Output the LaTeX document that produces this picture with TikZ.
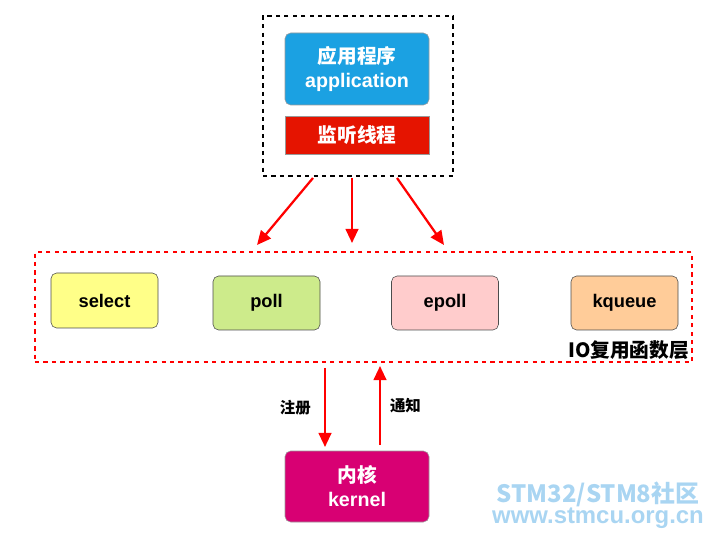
\documentclass[tikz,border=0pt]{standalone}
\usepackage{fontspec}
\setmainfont{Liberation Sans}
\newfontfamily\cjk{Noto Sans CJK SC}
\usetikzlibrary{arrows.meta}
\definecolor{appblue}{HTML}{1BA1E2}
\definecolor{thrred}{HTML}{E51400}
\definecolor{kernred}{HTML}{D80073}
\definecolor{wmblue}{HTML}{A9D5F2}
\tikzset{box/.style={draw=black!70,rounded corners=4pt,minimum width=2.675cm,minimum height=1.35cm,font=\fontsize{13}{15}\selectfont\bfseries},
  solid box/.style={rounded corners=4pt,draw=black!40,text=white,minimum width=3.6cm,align=center,font=\fontsize{14}{17}\selectfont\bfseries},
  red arrow/.style={-{Triangle[length=10pt,width=9pt]},draw=red,line width=1.6pt}}
\begin{document}
\begin{tikzpicture}
  \useasboundingbox (0,0) rectangle (17.975,13.5);
  % top group
  \node[draw,dashed,line width=1pt,minimum width=4.75cm,minimum height=4cm] (grp) at (8.95,11.1) {};
  \node[solid box,fill=appblue,minimum height=1.8cm] (app) at (8.925,11.775) {{\cjk 应用程序}\\application};
  \node[solid box,fill=thrred,rounded corners=0pt,minimum height=0.95cm] (thr) at (8.925,10.125) {\cjk 监听线程};
  % io layer
  \node[draw=red,dashed,line width=1pt,minimum width=16.425cm,minimum height=2.75cm] (io) at (9.0875,5.825) {};
  \node[box,fill={rgb,255:red,255;green,255;blue,136},minimum height=1.375cm] (sel) at (2.6125,5.9875) {select};
  \node[box,fill={rgb,255:red,205;green,235;blue,139}] (poll) at (6.6625,5.925) {poll};
  \node[box,fill={rgb,255:red,255;green,204;blue,204}] (epoll) at (11.125,5.925) {epoll};
  \node[box,fill={rgb,255:red,255;green,204;blue,153}] (kq) at (15.6125,5.925) {kqueue};
  \node[anchor=east,font=\fontsize{14}{16}\selectfont\bfseries\cjk] (iol) at (17.35,4.75) {IO复用函数层};
  % kernel
  \node[solid box,fill=kernred,minimum height=1.775cm] (kern) at (8.925,1.3375) {{\cjk 内核}\\kernel};
  % arrows
  \coordinate (a1) at (7.825,9.05); \coordinate (b1) at (6.425,7.375);
  \coordinate (a2) at (8.8,9.05);   \coordinate (b2) at (8.8,7.425);
  \coordinate (a3) at (9.925,9.05); \coordinate (b3) at (11.1,7.375);
  \draw[red arrow] (a1) -- (b1);
  \draw[red arrow] (a2) -- (b2);
  \draw[red arrow] (a3) -- (b3);
  \coordinate (r1) at (8.125,4.3); \coordinate (r2) at (8.125,2.325);
  \coordinate (n1) at (9.5,2.375); \coordinate (n2) at (9.5,4.35);
  \draw[red arrow] (r1) -- (r2) node[midway,left=6pt,text=black,font=\fontsize{11}{13}\selectfont\bfseries\cjk] (reg) {注册};
  \draw[red arrow] (n1) -- (n2) node[midway,right=3pt,text=black,font=\fontsize{11}{13}\selectfont\bfseries\cjk] (ntf) {通知};
  % watermark
  \node[text=wmblue,font=\fontsize{17}{19}\selectfont\bfseries\cjk] (wm1) at (14.95,1.15) {STM32/STM8社区};
  \node[text=wmblue,font=\fontsize{17}{19}\selectfont\bfseries] (wm2) at (14.95,0.55) {www.stmcu.org.cn};
\end{tikzpicture}
\end{document}
